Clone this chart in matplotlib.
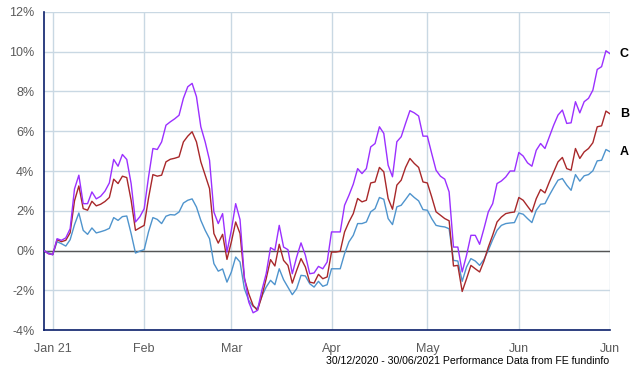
import numpy as np
import pandas as pd
import matplotlib
matplotlib.use("Agg")
import matplotlib.pyplot as plt

plt.rcParams['font.family'] = ['Liberation Sans', 'DejaVu Sans']

# Business-day series 30/12/2020 - 30/06/2021 (cumulative performance, %)
C = [0, -0.15, -0.2, 0.6, 0.52, 0.64, 1.1, 3.1, 3.79, 2.36,
     2.36, 2.95, 2.6, 2.73, 2.99, 3.4, 4.58, 4.24, 4.83, 4.58,
     3.37, 1.44, 1.7, 2.11, 3.7, 5.13, 5.08, 5.46, 6.3, 6.47,
     6.62, 6.8, 7.65, 8.23, 8.4, 7.73, 6.22, 5.46, 4.54, 1.94,
     1.36, 1.86, -0.07, 1.02, 2.36, 1.56, -1.33, -2.58, -3.12, -3.0,
     -2.0,
     -1.16, 0.15, 0.02, 1.27, 0.18, 0.05, -1.16, -0.32, 0.39, -0.23,
     -1.16, -1.12, -0.79, -0.91, -0.57, 0.94, 0.94, 0.94, 2.28, 2.78,
     3.34, 4.12, 3.87, 4.12, 5.21, 5.38, 6.22,
     5.89, 4.29, 3.71, 5.47, 5.72, 6.39, 7.03, 6.92, 6.76, 5.75,
     5.75, 4.88, 4.04, 3.74, 3.59, 2.95, 0.18, 0.18, -1.07, -0.23,
     0.77, 0.77, 0.32, 1.11, 1.95, 2.36,
     3.37, 3.5, 3.7, 4.0, 4.0, 4.93, 4.75, 4.41, 4.24, 5.04,
     5.38, 5.13, 5.72, 6.3, 6.81, 7.06, 6.39, 6.42, 7.48, 6.92,
     7.48, 7.65, 8.06, 9.1, 9.24, 10.04, 9.88]

B = [0, -0.15, -0.2, 0.55, 0.45, 0.52, 0.9, 2.5, 3.25, 2.11,
     2.03, 2.48, 2.25, 2.33, 2.47, 2.67, 3.59, 3.37, 3.74, 3.67,
     2.53, 1.02, 1.15, 1.27, 2.65, 3.82, 3.74, 3.79, 4.46, 4.59,
     4.64, 4.71, 5.46, 5.75, 5.97, 5.46, 4.46, 3.79, 3.12, 0.86,
     0.38, 0.82, -0.44, 0.43, 1.44, 0.86, -1.41, -2.16, -2.75, -3.0,
     -2.3,
     -1.41, -0.45, -0.77, 0.32, -0.49, -0.74, -1.63, -0.99, -0.4, -0.82,
     -1.58, -1.63, -1.19, -1.41, -1.32, -0.07, -0.07, -0.03, 0.94, 1.44,
     1.86, 2.62, 2.45, 2.53, 3.4, 3.45, 4.18,
     3.96, 2.62, 2.08, 3.29, 3.54, 4.18, 4.63, 4.38, 4.18, 3.45,
     3.4, 2.7, 1.95, 1.78, 1.61, 1.5, -0.77, -0.74, -2.05, -1.41,
     -0.74, -0.91, -1.07, -0.52, 0.18, 0.78,
     1.44, 1.69, 1.86, 1.91, 1.94, 2.67, 2.53, 2.23, 1.94, 2.61,
     3.07, 2.9, 3.45, 3.96, 4.46, 4.68, 4.12, 4.04, 5.13, 4.63,
     4.96, 5.13, 5.42, 6.22, 6.27, 7.01, 6.86]

A = [0, -0.1, -0.2, 0.45, 0.35, 0.23, 0.55, 1.3, 1.89, 1.02,
     0.82, 1.14, 0.89, 0.95, 1.02, 1.12, 1.66, 1.52, 1.71, 1.74,
     0.86, -0.12, -0.02, 0.05, 0.95, 1.66, 1.57, 1.36, 1.73, 1.81,
     1.79, 1.94, 2.39, 2.53, 2.6, 2.19, 1.52, 1.02, 0.6, -0.65,
     -1.03, -0.92, -1.58, -1.08, -0.32, -0.57, -1.91, -2.5, -2.8, -2.92,
     -2.3,
     -1.83, -1.49, -1.71, -0.91, -1.46, -1.83, -2.21, -1.91, -1.24, -1.27,
     -1.66, -1.83, -1.54, -1.79, -1.71, -0.91, -0.91, -0.91, -0.15, 0.44,
     0.77, 1.36, 1.36, 1.44, 1.95, 2.11, 2.67,
     2.58, 1.61, 1.31, 2.2, 2.28, 2.57, 2.87, 2.67, 2.5, 2.06,
     2.03, 1.61, 1.27, 1.22, 1.19, 1.1, -0.49, -0.52, -1.54, -0.82,
     -0.4, -0.52, -0.74, -0.44, 0.02, 0.55,
     1.02, 1.27, 1.36, 1.39, 1.41, 1.89, 1.83, 1.61, 1.41, 2.03,
     2.33, 2.36, 2.78, 3.17, 3.54, 3.62, 3.29, 3.03, 3.82, 3.49,
     3.76, 3.82, 4.01, 4.51, 4.54, 5.08, 4.96]

series_names = ["A", "B", "C"]
series_colors = ["#4f94cd", "#a8282a", "#9b30ff"]

tick_dates = ["2021-01-01", "2021-02-01", "2021-03-01", "2021-04-01",
              "2021-05-03", "2021-06-01", "2021-06-30"]
tick_labels = ["Jan 21", "Feb", "Mar", "Apr", "May", "Jun", "Jun"]
y_ticks = [-4, -2, 0, 2, 4, 6, 8, 10, 12]
footer = "30/12/2020 - 30/06/2021 Performance Data from FE fundinfo"

dates = pd.bdate_range("2020-12-30", "2021-06-30")
x = np.arange(len(dates))
tick_pos = np.searchsorted(dates.values, pd.to_datetime(tick_dates).values)

fig = plt.figure(figsize=(6.4, 3.7), dpi=100)
ax = fig.add_axes([44/640, 1 - 330.3/370, (610.3 - 44)/640, (330.3 - 11.7)/370])

grid_c = "#c9d8e3"
for t in tick_pos:
    ax.axvline(t, color=grid_c, lw=1.0, zorder=0)
for yv in y_ticks:
    ax.axhline(yv, color=grid_c, lw=1.0, zorder=0)
ax.axhline(0, color="#555555", lw=1.0, zorder=1)

for name, vals, col in zip(series_names, [A, B, C], series_colors):
    ax.plot(x, vals, color=col, lw=1.0, zorder=3)
    ax.annotate(name, xy=(x[-1], vals[-1]), xytext=(10, 0),
                textcoords="offset points", ha="center", va="center",
                fontsize=9, fontweight="bold", color="black",
                annotation_clip=False)

ax.set_xlim(0, len(dates) - 1)
ax.set_ylim(-4, 12)
ax.set_xticks(tick_pos)
ax.set_xticklabels(tick_labels)
ax.set_yticks(y_ticks)
ax.set_yticklabels([f"{v}%" for v in y_ticks])
ax.tick_params(axis="both", length=0, labelsize=9, labelcolor="#5a5a5a")
ax.tick_params(axis="x", pad=9)
ax.tick_params(axis="y", pad=7)

for s in ["top", "right"]:
    ax.spines[s].set_visible(False)
for s in ["left", "bottom"]:
    ax.spines[s].set_color("#0b1f6b")
    ax.spines[s].set_linewidth(1.2)

fig.text(609/640, 1 - 361/370, footer, ha="right", va="center",
         fontsize=7.6, color="black")

fig.savefig("out.png", dpi=100)
